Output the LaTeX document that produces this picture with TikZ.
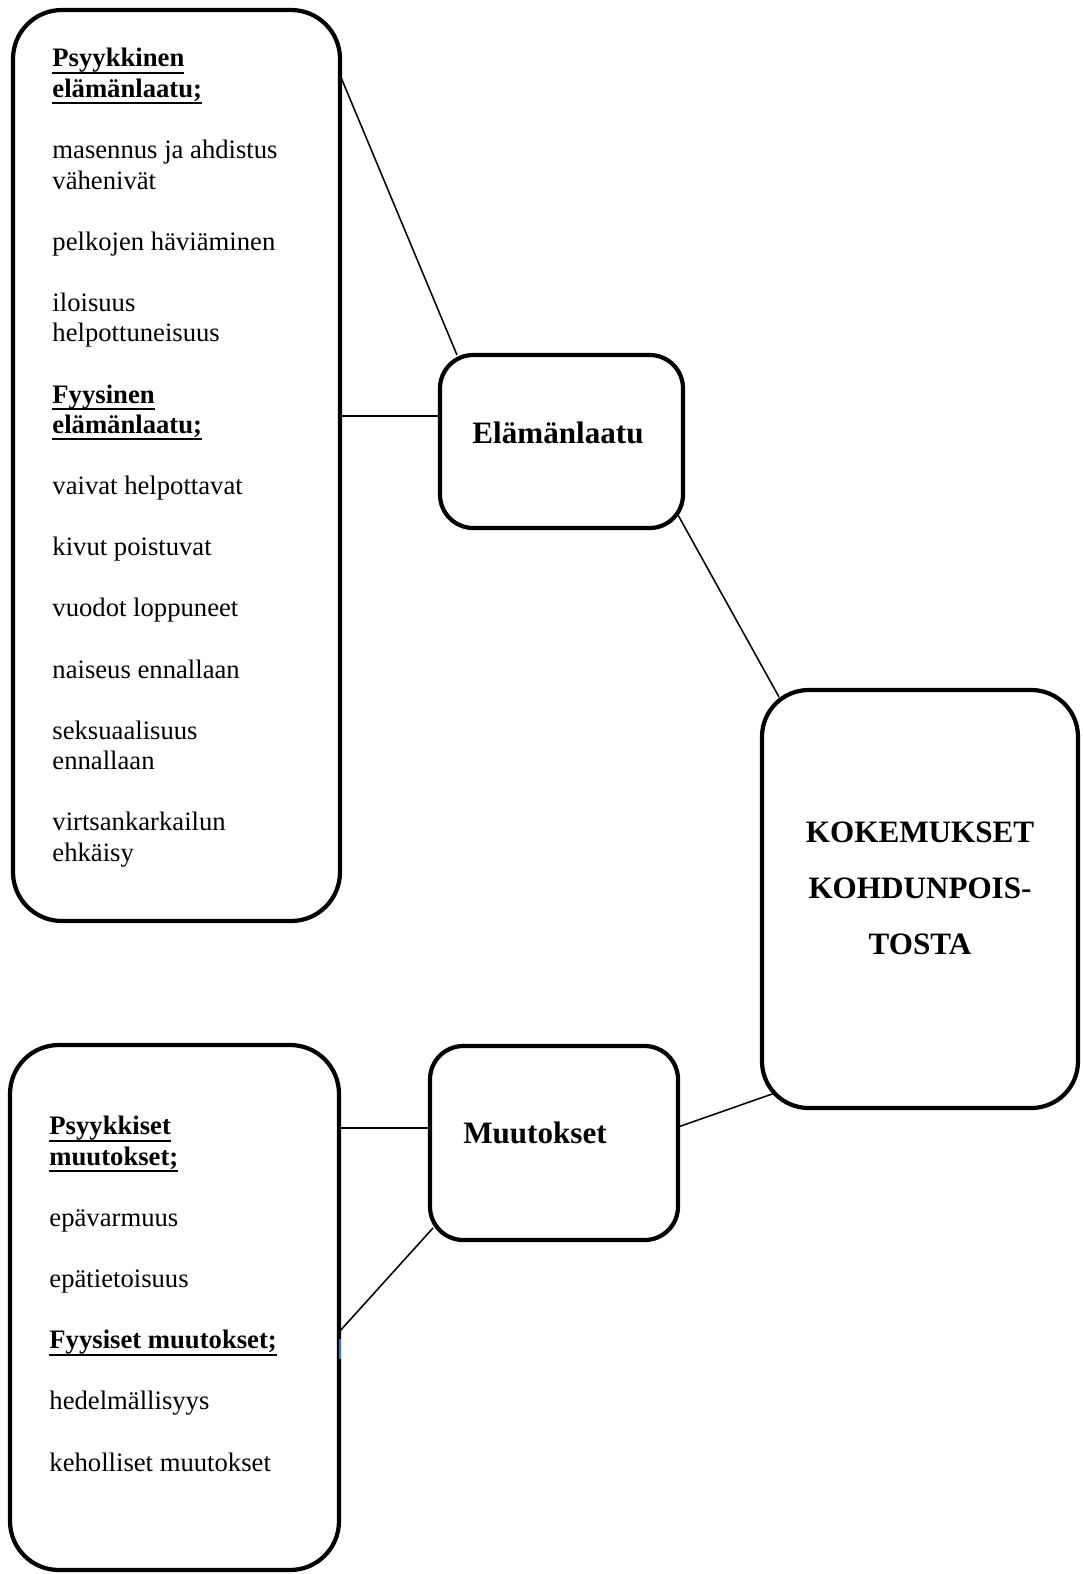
\documentclass[tikz,border=0pt]{standalone}
\usepackage{fontspec}
\setmainfont{Liberation Serif}
\newcommand{\otsikko}[1]{\setbox0\hbox{\textbf{#1}}\rlap{\rule[-3pt]{\wd0}{0.9pt}}\box0}
\definecolor{wordblue}{HTML}{4472C4}

\begin{document}
\begin{tikzpicture}[x=0.45pt,y=-0.45pt,
  box/.style={draw,line width=1.9pt,rounded corners=#1,inner sep=0pt,outer sep=0pt},
  box/.default=20pt,
  txt/.style={anchor=north west,align=left,inner sep=0pt,font=\fontsize{12}{13.75}\selectfont},
  title/.style={font=\fontsize{14}{25.2}\selectfont\bfseries,align=center,inner sep=0pt},
  link/.style={line width=0.7pt}]
\useasboundingbox (0,0) rectangle (1082,1574);

% boxes
\node [box=22pt,minimum width=147.15pt,minimum height=409.95pt] (elamaBox) at (176.5,465.5) {};
\node [box=22pt,minimum width=148.05pt,minimum height=236.25pt] (muutBox) at (174.5,1307.5) {};
\node [box=15pt,minimum width=109.35pt,minimum height=77.85pt] (elama) at (561.5,441.5) {};
\node [box=15pt,minimum width=111.6pt,minimum height=87.3pt] (muut) at (554,1143) {};
\node [box=21pt,minimum width=142.2pt,minimum height=188.1pt] (kok) at (920,899) {};

% titles
\node [title] (elamaT) at (558,433) {Elämänlaatu};
\node [title] (muutT) at (535,1133) {Muutokset};
\node [title] (kokT) at (920,888) {KOKEMUKSET\\KOHDUNPOIS-\\TOSTA};

% lists
\node [txt] (elamaList) at (52,48) {%
  \otsikko{Psyykkinen}\\
  \otsikko{elämänlaatu;}\\[13.75pt]
  masennus ja ahdistus\\
  vähenivät\\[13.75pt]
  pelkojen häviäminen\\[13.75pt]
  iloisuus\\
  helpottuneisuus\\[13.75pt]
  \otsikko{Fyysinen}\\
  \otsikko{elämänlaatu;}\\[13.75pt]
  vaivat helpottavat\\[13.75pt]
  kivut poistuvat\\[13.75pt]
  vuodot loppuneet\\[13.75pt]
  naiseus ennallaan\\[13.75pt]
  seksuaalisuus\\
  ennallaan\\[13.75pt]
  virtsankarkailun\\
  ehkäisy};
\node [txt] (muutList) at (49,1116) {%
  \otsikko{Psyykkiset}\\
  \otsikko{muutokset;}\\[13.75pt]
  epävarmuus\\[13.75pt]
  epätietoisuus\\[13.75pt]
  \otsikko{Fyysiset muutokset;}\\[13.75pt]
  hedelmällisyys\\[13.75pt]
  keholliset muutokset};

% connectors
\draw [link] ([shift={(0,65)}]elamaBox.north east) -- ([shift={(17,0)}]elama.north west);
\draw [link] ([shift={(0,-49.5)}]elamaBox.east) -- ([shift={(0,-25.5)}]elama.west);
\draw [link] ([shift={(-5,-13)}]elama.south east) -- ([shift={(17,7)}]kok.north west);
\draw [link] ([shift={(0,-16)}]muut.east) -- ([shift={(13,-15)}]kok.south west);
\draw [link] ([shift={(0,-179.5)}]muutBox.east) -- ([shift={(0,-15)}]muut.west);
\draw [link] ([shift={(0,24.5)}]muutBox.east) -- ([shift={(3,-12)}]muut.south west);
\draw [wordblue,line width=0.8pt] ([shift={(1,31)}]muutBox.east) -- ([shift={(1,51)}]muutBox.east);
\end{tikzpicture}
\end{document}
